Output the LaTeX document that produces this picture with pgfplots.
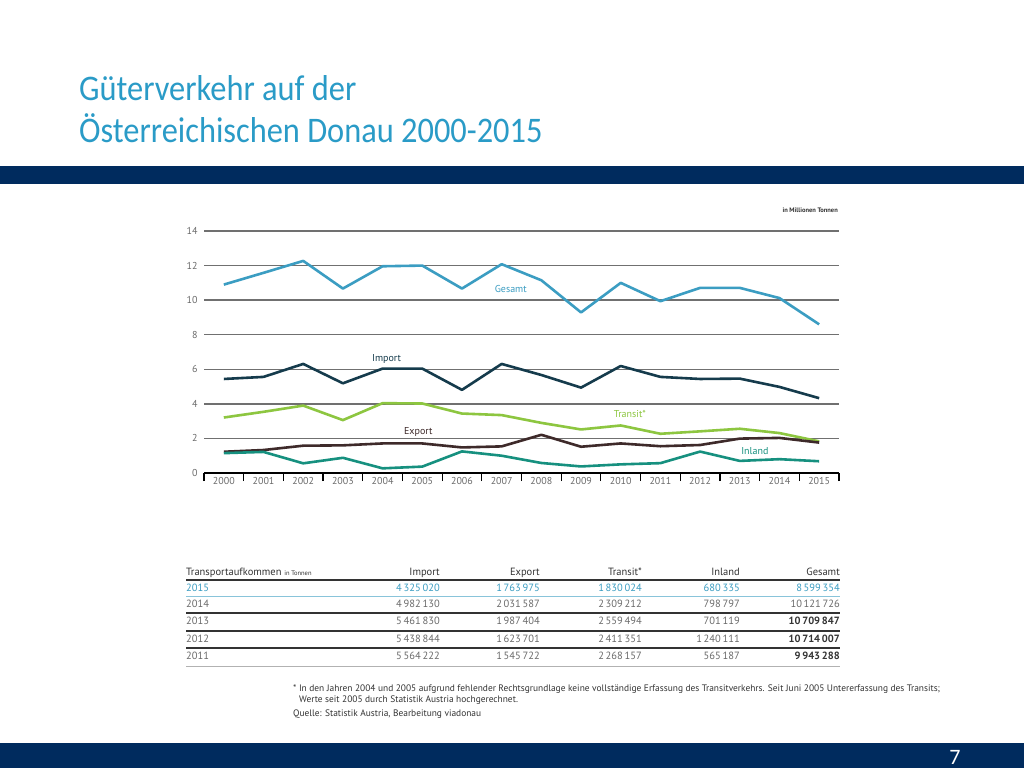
\documentclass[border=0pt]{standalone}
\usepackage{fontspec}
\setmainfont{PT Sans}
\newfontfamily\titlefont{Carlito}
\usepackage{graphicx}
\usepackage{pgfplots}
\usepackage{pgfplotstable}
\pgfplotsset{compat=1.18}

\definecolor{titleblue}{HTML}{2A9BC7}
\definecolor{navy}{HTML}{002B5E}
\definecolor{cGesamt}{HTML}{3B9DC2}
\definecolor{cImport}{HTML}{153B4C}
\definecolor{cTransit}{HTML}{8DC640}
\definecolor{cExport}{HTML}{3E2A2A}
\definecolor{cInland}{HTML}{16907F}
\definecolor{gridgray}{HTML}{707070}
\definecolor{txtgray}{HTML}{6A6A6A}
\definecolor{darktxt}{HTML}{333333}

% Transportaufkommen in Mio. Tonnen
\pgfplotstableread{
year gesamt import transit export inland
2000 10.90 5.44 3.21 1.23 1.15
2001 11.58 5.56 3.54 1.33 1.22
2002 12.27 6.31 3.90 1.58 0.56
2003 10.67 5.19 3.06 1.60 0.88
2004 11.96 6.04 4.04 1.71 0.27
2005 12.00 6.04 4.02 1.71 0.37
2006 10.67 4.81 3.44 1.48 1.25
2007 12.08 6.31 3.35 1.54 1.00
2008 11.15 5.67 2.90 2.21 0.58
2009  9.29 4.94 2.52 1.52 0.38
2010 11.00 6.19 2.75 1.71 0.50
2011  9.94 5.56 2.27 1.55 0.57
2012 10.71 5.44 2.41 1.62 1.24
2013 10.71 5.46 2.56 1.99 0.70
2014 10.12 4.98 2.31 2.03 0.80
2015  8.60 4.33 1.83 1.76 0.68
}\donau

\newcommand\titletext[1]{\scalebox{0.9}[1]{#1}}

\begin{document}
\begin{tikzpicture}
\begin{scope}[x=1pt,y=-1pt]
  \fill[white] (0,0) rectangle (1024,768);
  % title and bars
  \node[anchor=base west,inner sep=0,text=titleblue,font=\titlefont\fontsize{36}{40}\selectfont] at (79,100) {\titletext{Güterverkehr auf der}};
  \node[anchor=base west,inner sep=0,text=titleblue,font=\titlefont\fontsize{36}{40}\selectfont] at (79,142) {\titletext{Österreichischen Donau 2000-2015}};
  \fill[navy] (0,166) rectangle (1024,184);
  \fill[navy] (0,743) rectangle (1024,768);
  \node[inner sep=0,text=white,font=\titlefont\fontsize{22}{24}\selectfont] at (955,757) {7};
  \node[anchor=mid east,inner sep=0,text=darktxt,font=\fontsize{6.5}{7}\selectfont\bfseries] at (838,210) {in Millionen Tonnen};
\end{scope}

\begin{axis}[
  at={(204pt,-473pt)}, anchor=south west,
  scale only axis, width=635pt, height=242pt,
  xmin=1999.5, xmax=2015.5, ymin=0, ymax=14,
  axis x line*=bottom, axis y line*=left,
  y axis line style={draw=none},
  x axis line style={black, line width=1.2pt},
  xtick={2000,2001,...,2015},
  minor xtick={1999.5,2000.5,...,2015.5},
  ytick={0,2,...,14},
  major tick length=0pt,
  minor tick length=8pt,
  tick align=outside,
  minor x tick style={black, line width=1.2pt},
  ymajorgrids, grid style={gridgray, line width=1.3pt},
  ticklabel style={text=txtgray, font=\fontsize{10}{11}\selectfont},
  x tick label style={/pgf/number format/1000 sep={}, yshift=-1pt},
  y tick label style={xshift=-3pt},
  /pgf/number format/assume math mode=true,
  clip=false,
  every axis plot/.append style={line width=2.6pt, line join=round, no marks},
]
\addplot[cGesamt] table[x=year,y=gesamt] {\donau};
\addplot[cImport] table[x=year,y=import] {\donau};
\addplot[cTransit] table[x=year,y=transit] {\donau};
\addplot[cExport] table[x=year,y=export] {\donau};
\addplot[cInland] table[x=year,y=inland] {\donau};
\node[text=cGesamt,font=\fontsize{10}{11}\selectfont] at (axis cs:2007.23,10.64) {Gesamt};
\node[text=cImport,font=\fontsize{10}{11}\selectfont] at (axis cs:2004.1,6.59) {Import};
\node[text=cTransit,font=\fontsize{10}{11}\selectfont] at (axis cs:2010.23,3.41) {Transit*};
\node[text=cExport,font=\fontsize{10}{11}\selectfont] at (axis cs:2004.9,2.37) {Export};
\node[text=cInland,font=\fontsize{10}{11}\selectfont] at (axis cs:2013.38,1.27) {Inland};
\end{axis}

\begin{scope}[x=1pt,y=-1pt,every node/.style={inner sep=0,font=\fontsize{10.5}{11}\selectfont,text=txtgray}]
  % table header
  \node[anchor=mid west,text=darktxt] at (186,573) {Transportaufkommen {\fontsize{6.5}{7}\selectfont in Tonnen}};
  \foreach \x/\t in {440/Import,540/Export,642/Transit*,740/Inland,840/Gesamt}
    \node[anchor=mid east,text=darktxt] at (\x,573) {\t};
  \draw[darktxt,line width=1.6pt] (186,580) -- (840,580);
  % rows
  \foreach \y/\yr/\a/\b/\c/\d/\e/\col/\g in {
      589/2015/4\,325\,020/1\,763\,975/1\,830\,024/680\,335/8\,599\,354/cGesamt/0,
      605/2014/4\,982\,130/2\,031\,587/2\,309\,212/798\,797/10\,121\,726/txtgray/0,
      622/2013/5\,461\,830/1\,987\,404/2\,559\,494/701\,119/10\,709\,847/txtgray/1,
      640/2012/5\,438\,844/1\,623\,701/2\,411\,351/1\,240\,111/10\,714\,007/txtgray/1,
      657/2011/5\,564\,222/1\,545\,722/2\,268\,157/565\,187/9\,943\,288/txtgray/1}{
    \node[anchor=mid west,text=\col] at (186,\y) {\yr};
    \node[anchor=mid east,text=\col] at (440,\y) {\a};
    \node[anchor=mid east,text=\col] at (540,\y) {\b};
    \node[anchor=mid east,text=\col] at (642,\y) {\c};
    \node[anchor=mid east,text=\col] at (740,\y) {\d};
    \ifnum\g=1
      \node[anchor=mid east,text=darktxt] at (840,\y) {\bfseries\e};
    \else
      \node[anchor=mid east,text=\col] at (840,\y) {\e};
    \fi
  }
  \draw[cGesamt!60,line width=0.8pt] (186,596) -- (840,596);
  \draw[darktxt,line width=1.6pt] (186,613) -- (840,613);
  \draw[darktxt,line width=1.6pt] (186,631) -- (840,631);
  \draw[darktxt,line width=1.6pt] (186,648) -- (840,648);
  \draw[gray!60,line width=0.8pt] (186,666) -- (840,666);
  % footnote
  \node[anchor=mid west,font=\fontsize{9.4}{10}\selectfont,text=darktxt] at (293,689) {* In den Jahren 2004 und 2005 aufgrund fehlender Rechtsgrundlage keine vollständige Erfassung des Transitverkehrs. Seit Juni 2005 Untererfassung des Transits;};
  \node[anchor=mid west,font=\fontsize{9.4}{10}\selectfont,text=darktxt] at (299,700) {Werte seit 2005 durch Statistik Austria hochgerechnet.};
  \node[anchor=mid west,font=\fontsize{9.4}{10}\selectfont,text=darktxt] at (293,714) {Quelle: Statistik Austria, Bearbeitung viadonau};
\end{scope}
\end{tikzpicture}
\end{document}
